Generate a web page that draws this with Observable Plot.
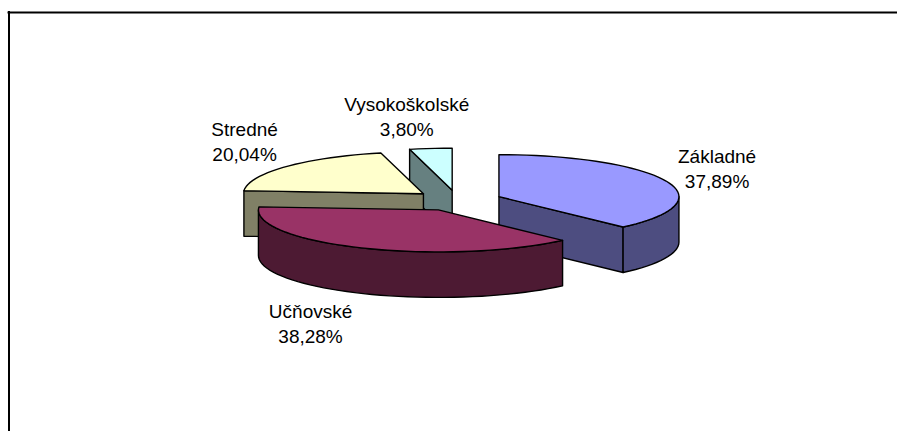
<!DOCTYPE html>
<html lang="sk">
<head>
<meta charset="utf-8">
<script src="https://cdn.jsdelivr.net/npm/d3@7"></script>
<script src="https://cdn.jsdelivr.net/npm/@observablehq/plot@0.6"></script>
<style>html,body{margin:0;padding:0;background:#fff}svg{display:block}</style>
</head>
<body>
<div id="chart"></div>
<script>
// Data, in clockwise order from 12 o'clock
const categories = ["Základné", "Učňovské", "Stredné", "Vysokoškolské"];
const shares = [37.89, 38.28, 20.04, 3.80];

// Styles
const topColors = ["#9999FF", "#993366", "#FFFFCC", "#CCFFFF"];
const wallColors = ["#4D4D80", "#4D1A33", "#808066", "#668080"];
const drawOrder = [3, 2, 0, 1]; // back to front

// Layout of the 3D pie
const W = 897, H = 431;
const cx = 457, cy = 200, rx = 180, ry = 42, depth = 45.5, explode = 0.248, stepDeg = 3;
const labelDx = [51, -51, -41.5, -24];
const labelDy = [-14, 74.5, -26.5, -33];
const frameLeft = 8.5, frameTop = 12;

const rad = (d) => d * Math.PI / 180;
const total = d3.sum(shares);
let acc = 0;
const slices = shares.map((v, i) => {
  const a0 = acc / total * 360; acc += v;
  const a1 = acc / total * 360;
  const mid = (a0 + a1) / 2;
  const ax = cx + explode * rx * Math.sin(rad(mid));
  const ay = cy - explode * ry * Math.cos(rad(mid));
  return {i, a0, a1, mid, ax, ay};
});
const rim = (s, a) => [s.ax + rx * Math.sin(rad(a)), s.ay - ry * Math.cos(rad(a))];
const arc = (s, from, to) => {
  const n = Math.max(1, Math.ceil((to - from) / stepDeg));
  return d3.range(n + 1).map(k => rim(s, from + (to - from) * k / n));
};

const rows = [];
const addPoly = (part, fill, pts) => {
  [...pts, pts[0]].forEach(([x, y]) => rows.push({part, fill, x, y}));
};
for (const idx of drawOrder) {
  const s = slices[idx];
  const wall = wallColors[idx];
  const radialWall = (a, tag) => {
    const [x, y] = rim(s, a);
    addPoly(`${idx}-${tag}`, wall, [[s.ax, s.ay], [x, y], [x, y + depth], [s.ax, s.ay + depth]]);
  };
  if (Math.sin(rad(s.a0)) < -1e-6) radialWall(s.a0, "start");
  if (Math.sin(rad(s.a1)) > 1e-6) radialWall(s.a1, "end");
  const from = Math.max(s.a0, 90), to = Math.min(s.a1, 270);
  if (to > from) {
    const upper = arc(s, from, to);
    const lower = upper.map(([x, y]) => [x, y + depth]).reverse();
    addPoly(`${idx}-arc`, wall, [...upper, ...lower]);
  }
  addPoly(`${idx}-top`, topColors[idx], [[s.ax, s.ay], ...arc(s, s.a0, s.a1)]);
}

const labels = slices.map(s => {
  const [x, y] = rim(s, s.mid);
  return {
    x: x + labelDx[s.i],
    y: y + labelDy[s.i],
    text: `${categories[s.i]}\n${shares[s.i].toFixed(2).replace(".", ",")}%`
  };
});

const chart = Plot.plot({
  width: W, height: H,
  margin: 0,
  x: {domain: [0, W], range: [0, W], axis: null},
  y: {domain: [0, H], range: [0, H], axis: null},
  style: {background: "#fff"},
  marks: [
    Plot.ruleY([frameTop], {x1: frameLeft - 1, x2: W, stroke: "#000", strokeWidth: 2}),
    Plot.ruleX([frameLeft], {y1: frameTop - 1, y2: H, stroke: "#000", strokeWidth: 2}),
    Plot.line(rows, {
      x: "x", y: "y", z: "part", fill: "fill",
      stroke: "#000", strokeWidth: 1.4, strokeLinejoin: "round", curve: "linear"
    }),
    Plot.text(labels, {
      x: "x", y: "y", text: "text",
      fontFamily: "Liberation Sans", fontSize: 19, lineHeight: 1.32,
      fill: "#000", textAnchor: "middle"
    })
  ]
});
document.getElementById("chart").append(chart);
</script>
</body>
</html>
